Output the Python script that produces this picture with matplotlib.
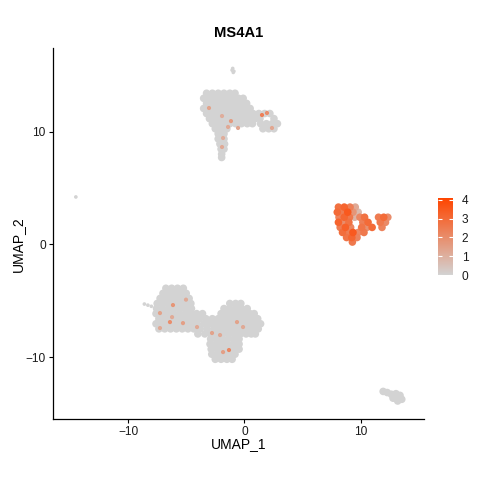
import matplotlib
matplotlib.use('Agg')
import matplotlib.pyplot as plt
import numpy as np
from matplotlib.colors import LinearSegmentedColormap, Normalize

plt.rcParams['font.family'] = ['Liberation Sans', 'DejaVu Sans']

# ---------------- data ----------------
title = 'MS4A1'
x_label = 'UMAP_1'
y_label = 'UMAP_2'
x_ticks = [-10, 0, 10]
y_ticks = [-10, 0, 10]
cbar_ticks = [0, 1, 2, 3, 4]
expr_max = 4.09
x_range = (-16.44, 15.49)
y_range = (-15.47, 17.44)

# top cluster, rows of (UMAP_2, [UMAP_1 ...]), expression 0
top_rows = [
    (13.4, [-3.25, -2.75, -2.25, -1.75, -1.25, -0.8]),
    (12.95, [-3.5, -3.0, -2.5, -2.0, -1.5, -1.0, -0.5, -0.1]),
    (12.5, [-3.25, -2.75, -2.25, -1.75, -1.25, -0.75, -0.25, 0.2]),
    (12.05, [-3.5, -3.0, -2.5, -2.0, -1.5, -1.0, -0.5, 0.0, 0.5]),
    (11.6, [-3.25, -2.75, -2.25, -1.75, -1.25, -0.75, -0.25, 0.25, 0.75, 1.25, 1.75, 2.2]),
    (11.15, [-3.0, -2.5, -2.0, -1.5, -1.0, -0.5, 0.0, 0.5, 0.95, 1.35, 2.55]),
    (10.7, [-2.75, -2.25, -1.75, -1.25, -0.75, -0.25, 0.25, 0.7, 1.4, 1.9, 2.4, 2.85]),
    (10.25, [-2.5, -2.0, -1.5, 1.6, 2.1, 2.55]),
    (9.8, [-2.25, -1.75]),
    (9.35, [-2.25, -1.75]),
    (8.9, [-2.1, -1.7]),
    (8.45, [-2.0, -1.75]),
    (8.0, [-1.95]),
    (7.7, [-1.95]),
]

# big lower-left cluster, rows of (UMAP_2, [UMAP_1 ...]), expression 0
bottom_rows = [
    (-3.9, [-6.75, -6.25, -5.75, -5.25]),
    (-4.35, [-7.0, -6.5, -6.0, -5.5, -5.0]),
    (-4.8, [-7.25, -6.75, -6.25, -5.75, -5.25, -4.75]),
    (-5.25, [-7.5, -7.0, -6.5, -6.0, -5.5, -5.0, -4.6, -1.25, -0.75, -0.3]),
    (-5.7, [-7.55, -7.05, -6.55, -6.05, -5.55, -5.05, -4.55, -1.75, -1.25, -0.75, -0.25, 0.25]),
    (-6.15, [-7.6, -7.1, -6.6, -6.1, -5.6, -5.1, -4.6, -4.1, -3.6,
             -2.0, -1.5, -1.0, -0.5, 0.0, 0.5, 0.85]),
    (-6.6, [-7.35, -6.85, -6.35, -5.85, -5.35, -4.85, -4.35, -3.85, -3.3, -2.75,
            -2.25, -1.75, -1.25, -0.75, -0.25, 0.25, 0.75, 1.15]),
    (-7.05, [-7.6, -7.1, -6.6, -6.1, -5.6, -5.1, -4.6, -4.05, -3.45, -2.95,
             -2.4, -1.9, -1.4, -0.9, -0.4, 0.1, 0.6, 1.1, 1.4]),
    (-7.5, [-7.35, -6.85, -6.35, -5.85, -5.35, -4.85, -4.35, -3.8, -3.2,
            -2.6, -2.1, -1.6, -1.1, -0.6, -0.1, 0.4, 0.9, 1.2]),
    (-7.95, [-4.0, -3.4, -2.85, -2.35, -1.85, -1.35, -0.85, -0.35, 0.15, 0.6, 0.95]),
    (-8.4, [-2.9, -2.4, -1.9, -1.4, -0.9, -0.45]),
    (-8.85, [-2.95, -2.45, -1.95, -1.45, -0.95, -0.45]),
    (-9.3, [-2.85, -2.35, -1.85, -1.35, -0.85, -0.45]),
    (-9.75, [-2.8, -2.3, -1.8, -1.3, -0.8]),
    (-10.2, [-2.5, -2.0, -1.5, -1.05]),
]

# small group bottom right
small_x = [11.95, 12.3, 12.65, 13.05, 13.4, 12.8, 13.2, 13.55, 13.2]
small_y = [-13.05, -13.15, -13.3, -13.25, -13.4, -13.65, -13.7, -13.75, -13.9]

# isolated cells: tiny group above top cluster, strays left of lower cluster, lone cell
iso_x = [-1.0, -0.9, -1.05, -0.95, -8.6, -8.3, -8.0, -14.5]
iso_y = [15.6, 15.35, 15.45, 15.25, -5.3, -5.4, -5.5, 4.2]

# B-cell cluster (right), rows of (UMAP_2, [UMAP_1 ...]) and expression per cell
b_rows = [
    (3.3, [8.1, 8.6, 9.1, 9.55]),
    (2.85, [8.0, 8.45, 8.9, 9.35, 9.8]),
    (2.4, [8.15, 8.6, 9.05, 9.5, 9.95, 10.35, 11.55, 12.0, 12.35]),
    (1.95, [8.1, 8.55, 9.0, 10.2, 10.65, 11.7, 12.15]),
    (1.5, [8.25, 8.7, 9.15, 10.1, 10.55, 11.0, 11.85]),
    (1.05, [8.45, 8.9, 9.35, 9.8, 10.3]),
    (0.6, [8.8, 9.25, 9.7]),
    (0.2, [9.3]),
]
b_expr = [
    [2.8, 3.2, 2.4, 1.2],
    [3.0, 2.5, 3.5, 1.8, 0.7],
    [2.3, 3.1, 2.6, 0.9, 2.2, 2.8, 2.5, 3.0, 2.0],
    [3.2, 2.0, 2.8, 2.4, 3.0, 2.6, 2.1],
    [2.5, 3.3, 2.2, 2.7, 1.9, 3.0, 2.3],
    [2.9, 2.4, 3.5, 2.1, 2.6],
    [2.7, 3.1, 2.3],
    [2.6],
]

# scattered expressing cells inside the grey clusters
pos_x = [-3.04, -1.92, -1.15, -1.4, -0.54, -1.83, -1.92, 1.52, 1.95, 2.38,
         -6.14, -7.26, -6.22, -6.4, -5.28, -7.26, -5.02, -4.07, -2.78, -2.09,
         -0.63, -0.11, -1.32, -1.83]
pos_y = [12.09, 11.38, 10.93, 10.41, 10.32, 9.43, 8.63, 11.47, 11.65, 10.32,
         -5.39, -6.1, -6.46, -6.9, -6.99, -7.43, -4.91, -7.34, -7.87, -8.05,
         -6.9, -7.34, -9.38, -9.56]
pos_v = [1.4, 1.1, 1.6, 1.2, 1.3, 1.1, 1.2, 2.4, 2.0, 1.3,
         1.8, 1.4, 1.2, 2.0, 1.5, 1.2, 1.2, 1.2, 1.4, 1.2,
         1.4, 1.2, 2.2, 1.5]


def flatten(rows):
    xs, ys = [], []
    for yv, row in rows:
        for xv in row:
            xs.append(xv)
            ys.append(yv)
    return xs, ys


tx, ty = flatten(top_rows)
bx, by = flatten(bottom_rows)
rx, ry = flatten(b_rows)
rv = [v for row in b_expr for v in row]

grey_x = tx + bx + small_x
grey_y = ty + by + small_y

all_x = np.array(grey_x + rx)
all_y = np.array(grey_y + ry)
all_v = np.array([0.0] * len(grey_x) + rv)
order = np.argsort(all_v, kind='stable')

cmap = LinearSegmentedColormap.from_list('ms', ['#D3D3D3', '#FF4500'])
norm = Normalize(vmin=0, vmax=expr_max)

fig = plt.figure(figsize=(4.8, 4.8), dpi=100)
ax = fig.add_axes([53.3 / 480, 1 - 418.7 / 480, (424.3 - 53.3) / 480, (418.7 - 47.7) / 480])

ax.scatter(all_x[order], all_y[order], c=all_v[order], cmap=cmap, norm=norm,
           s=30, linewidths=0, marker='o')
ax.scatter(iso_x, iso_y, c=[0.0] * len(iso_x), cmap=cmap, norm=norm,
           s=7, linewidths=0, marker='o')
ax.scatter(pos_x, pos_y, c=pos_v, cmap=cmap, norm=norm, s=9, linewidths=0, marker='o')

ax.set_xlim(*x_range)
ax.set_ylim(*y_range)
ax.set_xticks(x_ticks)
ax.set_yticks(y_ticks)
for side in ['top', 'right']:
    ax.spines[side].set_visible(False)
for side in ['left', 'bottom']:
    ax.spines[side].set_linewidth(0.9)
    ax.spines[side].set_color('black')
ax.tick_params(length=3, width=0.8, labelsize=8.6, colors='black', pad=2.5)
ax.tick_params(axis='both', labelcolor='#1a1a1a')

fig.text(0.4975, 1 - 33 / 480, title, ha='center', va='center', fontsize=10.6, fontweight='bold')
fig.text(0.4975, 1 - 444 / 480, x_label, ha='center', va='center', fontsize=10)
fig.text(18 / 480, 1 - 244 / 480, y_label, ha='center', va='center', rotation=90, fontsize=10)

# colour bar
cax = fig.add_axes([438.3 / 480, 1 - 275 / 480, 15 / 480, (275 - 198.3) / 480])
grad = np.linspace(0, expr_max, 256).reshape(-1, 1)
cax.imshow(grad, aspect='auto', cmap=cmap, norm=norm, origin='lower',
           extent=[0, 1, 0, expr_max])
cax.set_xlim(0, 1)
cax.set_ylim(0, expr_max)
cax.set_xticks([])
cax.set_yticks(cbar_ticks)
cax.yaxis.set_ticks_position('both')
cax.tick_params(axis='y', direction='in', length=3, width=0.8, color='white',
                labelleft=False, labelright=True, labelsize=8.6, labelcolor='#1a1a1a', pad=6)
for s in cax.spines.values():
    s.set_visible(False)

fig.savefig('out.png', dpi=100)
